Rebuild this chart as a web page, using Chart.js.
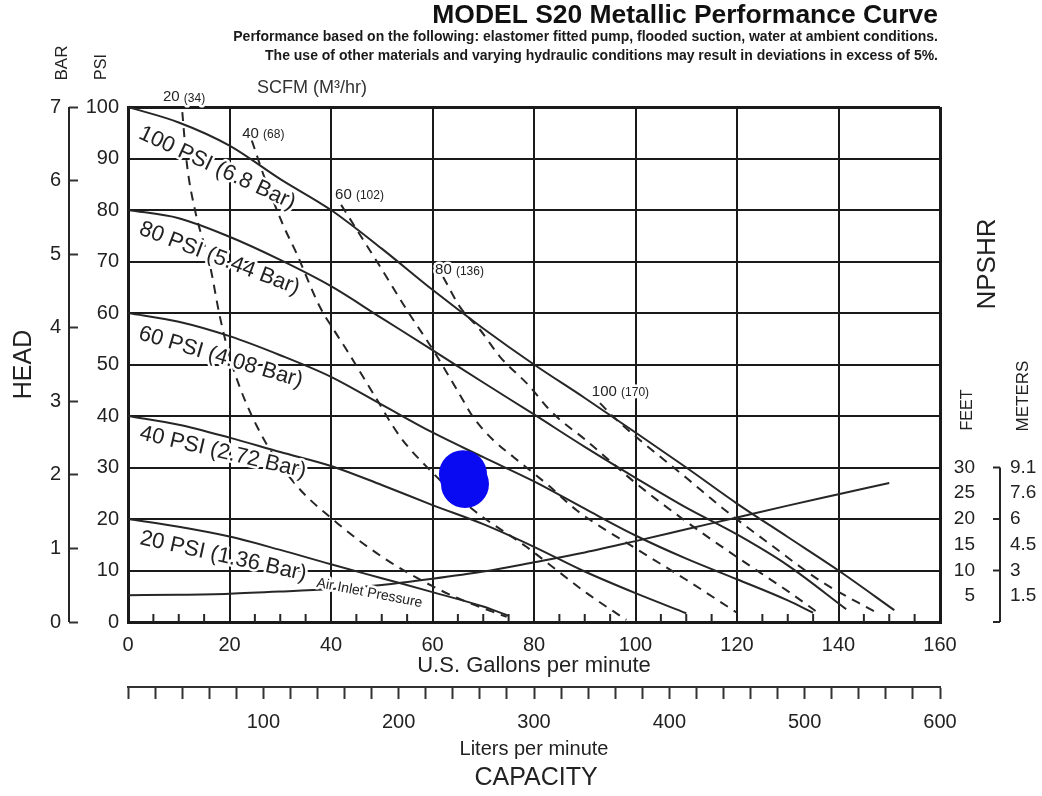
<!DOCTYPE html>
<html>
<head>
<meta charset="utf-8">
<title>MODEL S20 Metallic Performance Curve</title>
<script src="https://cdn.jsdelivr.net/npm/chart.js@4.4.1/dist/chart.umd.min.js"></script>
<style>
  html, body { margin: 0; padding: 0; background: #fff; }
  #wrap { width: 1042px; height: 796px; }
</style>
</head>
<body>
<div id="wrap"><canvas id="mycanvas" width="1042" height="796"></canvas></div>
<script>
const FONT = "'Liberation Sans', Arial, Helvetica, sans-serif";
const INK = '#222';
const LINE = '#262626';

// air inlet pressure curves: head (psi) against flow (US gpm)
const gpm100 = [0, 10, 20, 30, 40, 50, 60, 70, 80, 90, 100, 110, 120, 130, 140, 151];
const head100 = [100, 97, 92.5, 86, 80, 72.5, 64.5, 57, 50, 43.5, 36.8, 30, 23, 16.5, 10, 2.3];

const gpm80 = [0, 10, 20, 30, 40, 50, 60, 70, 80, 90, 100, 110, 120, 130, 141.5];
const head80 = [80, 78.4, 74.8, 70.3, 65.2, 59, 52.8, 46.5, 40.3, 34, 28, 22.2, 17, 11, 2.5];

const gpm60 = [0, 10, 20, 30, 40, 50, 60, 70, 80, 90, 100, 110, 120, 130, 135];
const head60 = [60, 58.3, 55.5, 51.8, 47.6, 42.2, 36.8, 32, 27.3, 22, 16.8, 12.3, 8.3, 4.2, 1.8];

const gpm40 = [0, 10, 20, 30, 40, 50, 60, 70, 80, 90, 100, 110];
const head40 = [40, 38.3, 35.8, 33, 30.3, 26.6, 22.7, 19, 14.6, 9.8, 5.6, 1.7];

const gpm20 = [0, 10, 20, 30, 40, 50, 60, 70, 75];
const head20 = [20, 18.5, 16.6, 14, 11.2, 8.5, 5.8, 3, 1.2];

// NPSHR (feet) against flow
const gpmNpshr = [0, 10, 20, 30, 40, 50, 60, 70, 80, 90, 100, 110, 120, 130, 140, 150];
const feetNpshr = [5.2, 5.3, 5.5, 5.9, 6.4, 7.2, 8.4, 9.8, 11.6, 13.5, 15.7, 18, 20.3, 22.6, 24.8, 27];

// air consumption lines (SCFM), dashed
const gpmScfm20 = [10.7, 11.6, 13.2, 16.2, 18.1, 20.5, 25.4, 32.6, 40.5, 50.3, 60.1, 67, 74.6];
const headScfm20 = [99, 89, 80, 69, 59.3, 50, 38, 27.2, 19.8, 12.5, 6.9, 3.8, 1];

const gpmScfm40 = [24.4, 27, 30.6, 33.2, 37.8, 40.5, 43.1, 48.3, 53.6, 59.5, 68, 78.5, 90.4, 98.2];
const headScfm40 = [93.5, 86, 77, 71.6, 61.2, 56.8, 52.8, 44.4, 36, 29.5, 21.8, 14.6, 5.6, 0.4];

const gpmScfm60 = [42, 45, 50, 55, 60, 65, 68, 72, 76, 83, 88.4, 100, 110, 120];
const headScfm60 = [81, 76.3, 68.5, 60.5, 53, 44.8, 39.8, 35.3, 32, 26.4, 21.7, 14.3, 8.2, 1.8];

const gpmScfm80 = [62.1, 65.4, 69.4, 73.3, 79.2, 82.5, 85.1, 90, 100, 110, 120, 130, 136.4];
const headScfm80 = [67, 61.2, 56.7, 51.5, 45.7, 41.8, 39.3, 35.5, 27, 19.5, 12.6, 6, 1.5];

const gpmScfm100 = [93, 96, 100.9, 110, 117.3, 127.2, 136.4, 147.5];
const headScfm100 = [42.5, 39.5, 35.3, 28, 22, 14.6, 8, 1.8];

// blue smudge on the scan
const blobGpm = [66.0, 66.4];
const blobHead = [28.7, 26.8];

// axis labels
const lpmLabels = [100, 200, 300, 400, 500, 600];
const feetTicks = [5, 10, 15, 20, 25, 30];
const meterLabels = ['1.5', '3', '4.5', '6', '7.6', '9.1'];

// text placed along the curves
const curveNotes = [
  { text: '100 PSI (6.8 Bar)', g: 2.4, p: 95.1, angle: 25 },
  { text: '80 PSI (5.44 Bar)', g: 2.4, p: 76.5, angle: 21 },
  { text: '60 PSI (4.08 Bar)', g: 2.2, p: 56.1, angle: 16.5 },
  { text: '40 PSI (2.72 Bar)', g: 2.4, p: 36.7, angle: 13.2 },
  { text: '20 PSI (1.36 Bar)', g: 2.4, p: 16.3, angle: 12.4 }
];
const scfmNotes = [
  { num: '20', m3: '(34)', g: 6.9, p: 101.9 },
  { num: '40', m3: '(68)', g: 22.5, p: 94.8 },
  { num: '60', m3: '(102)', g: 40.8, p: 82.9 },
  { num: '80', m3: '(136)', g: 60.5, p: 68.3 },
  { num: '100', m3: '(170)', g: 91.4, p: 44.7 }
];

const pts = (gs, hs) => gs.map((g, i) => ({ x: g, y: hs[i] }));

function solid(label, data) {
  return {
    label: label, data: data,
    borderColor: LINE, borderWidth: 2,
    pointRadius: 0, fill: false,
    cubicInterpolationMode: 'monotone',
    xAxisID: 'x', yAxisID: 'y'
  };
}
function dashed(label, data) {
  const d = solid(label, data);
  d.borderDash = [9, 7];
  return d;
}

function put(ctx, s, x, y, size, opts) {
  const o = Object.assign({ weight: 'normal', align: 'center', angle: 0, halo: false, color: INK }, opts || {});
  ctx.save();
  ctx.translate(x, y);
  ctx.rotate(o.angle * Math.PI / 180);
  ctx.font = o.weight + ' ' + size + 'px ' + FONT;
  ctx.textAlign = o.align;
  ctx.textBaseline = 'middle';
  if (o.halo) {
    ctx.lineWidth = 5; ctx.lineJoin = 'round'; ctx.strokeStyle = '#fff';
    ctx.strokeText(s, 0, 0);
  }
  ctx.fillStyle = o.color;
  ctx.fillText(s, 0, 0);
  ctx.restore();
}

function fitSize(ctx, s, weight, width) {
  ctx.font = weight + ' 20px ' + FONT;
  return 20 * width / ctx.measureText(s).width;
}

function seg(ctx, x1, y1, x2, y2) {
  ctx.beginPath(); ctx.moveTo(x1, y1); ctx.lineTo(x2, y2); ctx.stroke();
}

const sheetText = {
  id: 'sheetText',
  afterDraw(chart) {
    const ctx = chart.ctx;
    const xs = chart.scales.x, ys = chart.scales.y;
    ctx.save();
    ctx.strokeStyle = LINE;
    ctx.lineWidth = 2;

    // little inside ticks along the gpm axis
    for (let g = 5; g < 160; g += 5) {
      if (g % 20 === 0) continue;
      const px = xs.getPixelForValue(g);
      seg(ctx, px, ys.bottom, px, ys.bottom - 8);
    }

    // spine of the bar axis
    const b = chart.scales.bar;
    const bx = b.right - 9;
    seg(ctx, bx, b.getPixelForValue(7), bx, b.getPixelForValue(0));

    // bracket between feet and meters
    const f = chart.scales.ft;
    const kx = chart.scales.m.left + 25;
    seg(ctx, kx, f.getPixelForValue(30), kx, f.getPixelForValue(0));
    [30, 20, 10, 0].forEach(v => {
      const py = f.getPixelForValue(v);
      seg(ctx, kx - 7, py, kx, py);
    });

    // curve labels
    curveNotes.forEach(n => {
      put(ctx, n.text, xs.getPixelForValue(n.g), ys.getPixelForValue(n.p), 22,
        { align: 'left', angle: n.angle, halo: true });
    });
    put(ctx, 'Air Inlet Pressure', xs.getPixelForValue(37.2), ys.getPixelForValue(7.6), 14,
      { align: 'left', angle: 11, halo: true });

    // SCFM labels
    scfmNotes.forEach(n => {
      const px = xs.getPixelForValue(n.g), py = ys.getPixelForValue(n.p);
      put(ctx, n.num, px, py, 15, { align: 'left', halo: true });
      ctx.font = '15px ' + FONT;
      const w = ctx.measureText(n.num + ' ').width;
      put(ctx, n.m3, px + w, py + 1, 12, { align: 'left', halo: true });
    });
    put(ctx, 'SCFM (M\u00B3/hr)', 312, 88, 18, { color: '#333' });

    // heading
    const t1 = 'MODEL S20 Metallic Performance Curve';
    const t2 = 'Performance based on the following: elastomer fitted pump, flooded suction, water at ambient conditions.';
    const t3 = 'The use of other materials and varying hydraulic conditions may result in deviations in excess of 5%.';
    put(ctx, t1, 938, 16, fitSize(ctx, t1, 'bold', 506), { weight: 'bold', align: 'right', color: '#111' });
    put(ctx, t2, 938, 37, fitSize(ctx, t2, 'bold', 705), { weight: 'bold', align: 'right', color: '#1a1a1a' });
    put(ctx, t3, 938, 56, fitSize(ctx, t3, 'bold', 673), { weight: 'bold', align: 'right', color: '#1a1a1a' });

    // axis captions
    put(ctx, 'PSI', 102, 67, 16, { angle: -90 });
    put(ctx, 'BAR', 62, 63, 17, { angle: -90 });
    put(ctx, 'NPSHR', 988, 264, 26, { angle: -90 });
    put(ctx, 'FEET', 968, 410, 16, { angle: -90 });
    put(ctx, 'METERS', 1023, 396, 17, { angle: -90 });
    put(ctx, 'CAPACITY', 536, 778, 25);

    ctx.restore();
  }
};

const data = {
  datasets: [
    {
      label: 'mark', data: pts(blobGpm, blobHead), showLine: false,
      pointRadius: 24, pointHoverRadius: 24, pointBorderWidth: 0,
      pointBackgroundColor: '#0a0af2', backgroundColor: '#0a0af2',
      xAxisID: 'x', yAxisID: 'y', order: -1
    },
    solid('100 PSI', pts(gpm100, head100)),
    solid('80 PSI', pts(gpm80, head80)),
    solid('60 PSI', pts(gpm60, head60)),
    solid('40 PSI', pts(gpm40, head40)),
    solid('20 PSI', pts(gpm20, head20)),
    solid('NPSHR', pts(gpmNpshr, feetNpshr)),
    dashed('20 SCFM', pts(gpmScfm20, headScfm20)),
    dashed('40 SCFM', pts(gpmScfm40, headScfm40)),
    dashed('60 SCFM', pts(gpmScfm60, headScfm60)),
    dashed('80 SCFM', pts(gpmScfm80, headScfm80)),
    dashed('100 SCFM', pts(gpmScfm100, headScfm100))
  ]
};

const edge = (lo, hi) => c => (c.tick && (c.tick.value === lo || c.tick.value === hi)) ? 3 : 2;

const config = {
  type: 'line',
  data,
  options: {
    responsive: false,
    animation: false,
    devicePixelRatio: 1,
    layout: { padding: { top: 107, left: 0, right: 0, bottom: 0 } },
    plugins: { legend: { display: false }, tooltip: { enabled: false } },
    scales: {
      x: {
        type: 'linear', position: 'bottom', weight: 0, min: 0, max: 160,
        ticks: { stepSize: 20, padding: 11, color: INK, font: { family: FONT, size: 20 }, maxRotation: 0 },
        grid: { color: '#1a1a1a', lineWidth: edge(0, 160), drawTicks: false },
        border: { color: '#1a1a1a', width: 3 },
        title: { display: true, text: 'U.S. Gallons per minute', color: INK,
          font: { family: FONT, size: 22 }, padding: { top: 0, bottom: 8 } },
        afterFit(s) { s.height = 65; }
      },
      xl: {
        type: 'linear', axis: 'x', position: 'bottom', weight: 1, min: 0, max: 600,
        afterBuildTicks(s) {
          const t = [];
          for (let v = 0; v <= 600; v += 20) t.push({ value: v });
          s.ticks = t;
        },
        ticks: {
          padding: 11, color: INK, font: { family: FONT, size: 20 }, maxRotation: 0, autoSkip: false,
          callback: v => lpmLabels.includes(v) ? String(v) : ''
        },
        grid: { drawOnChartArea: false, drawTicks: true, tickLength: 12, tickWidth: 2, tickColor: '#333' },
        border: { color: '#333', width: 2 },
        title: { display: true, text: 'Liters per minute', color: INK,
          font: { family: FONT, size: 20 }, padding: { top: 0, bottom: 35 } },
        afterFit(s) { s.height = 109; }
      },
      y: {
        type: 'linear', position: 'left', weight: 0, min: 0, max: 100,
        ticks: { stepSize: 10, padding: 9, color: INK, font: { family: FONT, size: 20 } },
        grid: { color: '#1a1a1a', lineWidth: edge(0, 100), drawTicks: false },
        border: { color: '#1a1a1a', width: 3 },
        afterFit(s) { s.width = 50; }
      },
      bar: {
        type: 'linear', axis: 'y', position: 'left', weight: 1, min: 0, max: 7,
        ticks: { stepSize: 1, padding: 8, color: INK, font: { family: FONT, size: 20 } },
        grid: { drawOnChartArea: false, drawTicks: true, tickLength: 9, tickWidth: 2, tickColor: '#333' },
        border: { display: false },
        title: { display: true, text: 'HEAD', color: INK, font: { family: FONT, size: 25 }, padding: { top: 9, bottom: 0 } },
        afterFit(s) { s.width = 78; }
      },
      ft: {
        type: 'linear', axis: 'y', position: 'right', weight: 0, min: 0, max: 100,
        afterBuildTicks(s) { s.ticks = feetTicks.map(v => ({ value: v })); },
        ticks: { padding: 17, crossAlign: 'far', color: INK, font: { family: FONT, size: 19 },
          callback: v => String(v) },
        grid: { drawOnChartArea: false, drawTicks: false },
        border: { display: false },
        afterFit(s) { s.width = 35; }
      },
      m: {
        type: 'linear', axis: 'y', position: 'right', weight: 1, min: 0, max: 100,
        afterBuildTicks(s) { s.ticks = feetTicks.map(v => ({ value: v })); },
        ticks: { padding: 35, color: INK, font: { family: FONT, size: 19 },
          callback: v => meterLabels[feetTicks.indexOf(v)] },
        grid: { drawOnChartArea: false, drawTicks: false },
        border: { display: false },
        afterFit(s) { s.width = 67; }
      }
    }
  },
  plugins: [sheetText]
};

const myChart = new Chart(document.getElementById('mycanvas'), config);
</script>
</body>
</html>
